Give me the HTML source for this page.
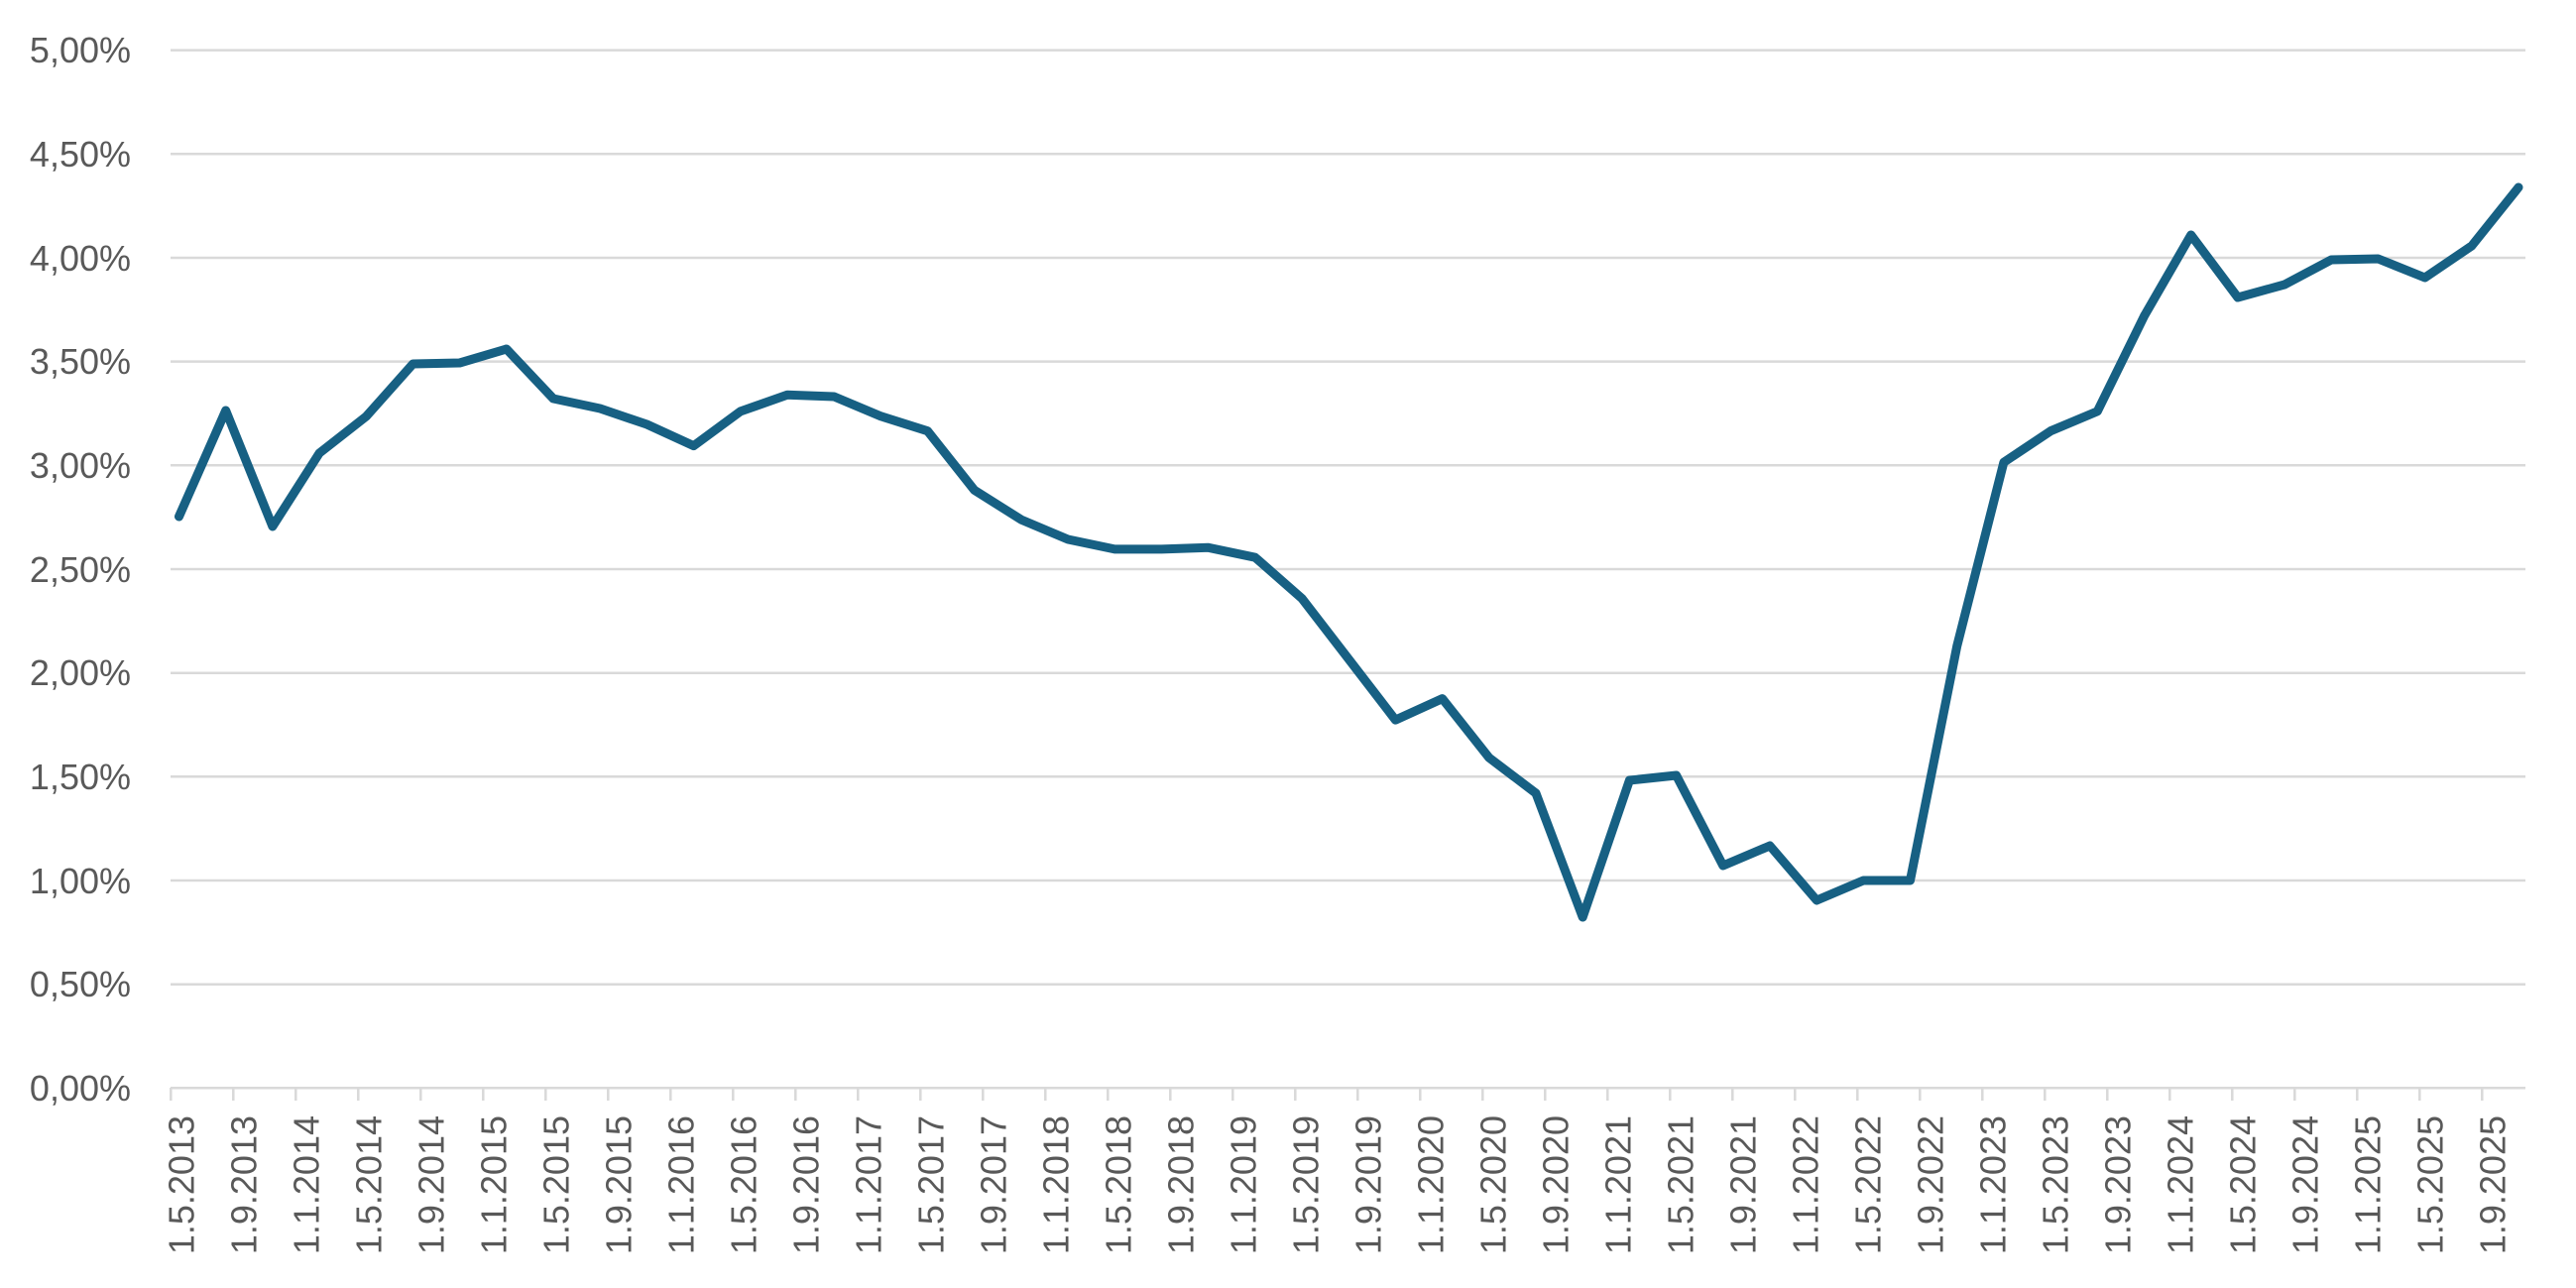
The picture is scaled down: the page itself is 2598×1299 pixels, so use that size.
<!DOCTYPE html>
<html><head><meta charset="utf-8"><style>
html,body{margin:0;padding:0;background:#fff;}
svg{display:block;}
text{font-family:"Liberation Sans",Arial,sans-serif;fill:#595959;}
</style></head><body>
<svg width="2598" height="1299" viewBox="0 0 2598 1299" xmlns="http://www.w3.org/2000/svg">
<g stroke="#d9d9d9" stroke-width="2.5">
<line x1="172" y1="50.6" x2="2547" y2="50.6"/>
<line x1="172" y1="155.3" x2="2547" y2="155.3"/>
<line x1="172" y1="260" x2="2547" y2="260"/>
<line x1="172" y1="364.6" x2="2547" y2="364.6"/>
<line x1="172" y1="469.3" x2="2547" y2="469.3"/>
<line x1="172" y1="574" x2="2547" y2="574"/>
<line x1="172" y1="678.7" x2="2547" y2="678.7"/>
<line x1="172" y1="783.3" x2="2547" y2="783.3"/>
<line x1="172" y1="888" x2="2547" y2="888"/>
<line x1="172" y1="992.7" x2="2547" y2="992.7"/>
<line x1="172" y1="1097.3" x2="2547" y2="1097.3"/>
</g>
<g font-size="36" text-anchor="end">
<text x="132" y="63">5,00%</text>
<text x="132" y="168">4,50%</text>
<text x="132" y="273">4,00%</text>
<text x="132" y="377">3,50%</text>
<text x="132" y="482">3,00%</text>
<text x="132" y="587">2,50%</text>
<text x="132" y="691">2,00%</text>
<text x="132" y="796">1,50%</text>
<text x="132" y="901">1,00%</text>
<text x="132" y="1005">0,50%</text>
<text x="132" y="1110">0,00%</text>
</g>
<g stroke="#d9d9d9" stroke-width="2.5">
<line x1="172.3" y1="1097" x2="172.3" y2="1110"/><line x1="235.3" y1="1097" x2="235.3" y2="1110"/><line x1="298.3" y1="1097" x2="298.3" y2="1110"/><line x1="361.3" y1="1097" x2="361.3" y2="1110"/><line x1="424.3" y1="1097" x2="424.3" y2="1110"/><line x1="487.3" y1="1097" x2="487.3" y2="1110"/><line x1="550.3" y1="1097" x2="550.3" y2="1110"/><line x1="613.3" y1="1097" x2="613.3" y2="1110"/><line x1="676.3" y1="1097" x2="676.3" y2="1110"/><line x1="739.3" y1="1097" x2="739.3" y2="1110"/><line x1="802.3" y1="1097" x2="802.3" y2="1110"/><line x1="865.3" y1="1097" x2="865.3" y2="1110"/><line x1="928.3" y1="1097" x2="928.3" y2="1110"/><line x1="991.3" y1="1097" x2="991.3" y2="1110"/><line x1="1054.3" y1="1097" x2="1054.3" y2="1110"/><line x1="1117.3" y1="1097" x2="1117.3" y2="1110"/><line x1="1180.3" y1="1097" x2="1180.3" y2="1110"/><line x1="1243.3" y1="1097" x2="1243.3" y2="1110"/><line x1="1306.3" y1="1097" x2="1306.3" y2="1110"/><line x1="1369.3" y1="1097" x2="1369.3" y2="1110"/><line x1="1432.3" y1="1097" x2="1432.3" y2="1110"/><line x1="1495.3" y1="1097" x2="1495.3" y2="1110"/><line x1="1558.3" y1="1097" x2="1558.3" y2="1110"/><line x1="1621.3" y1="1097" x2="1621.3" y2="1110"/><line x1="1684.3" y1="1097" x2="1684.3" y2="1110"/><line x1="1747.3" y1="1097" x2="1747.3" y2="1110"/><line x1="1810.3" y1="1097" x2="1810.3" y2="1110"/><line x1="1873.3" y1="1097" x2="1873.3" y2="1110"/><line x1="1936.3" y1="1097" x2="1936.3" y2="1110"/><line x1="1999.3" y1="1097" x2="1999.3" y2="1110"/><line x1="2062.3" y1="1097" x2="2062.3" y2="1110"/><line x1="2125.3" y1="1097" x2="2125.3" y2="1110"/><line x1="2188.3" y1="1097" x2="2188.3" y2="1110"/><line x1="2251.3" y1="1097" x2="2251.3" y2="1110"/><line x1="2314.3" y1="1097" x2="2314.3" y2="1110"/><line x1="2377.3" y1="1097" x2="2377.3" y2="1110"/><line x1="2440.3" y1="1097" x2="2440.3" y2="1110"/><line x1="2503.3" y1="1097" x2="2503.3" y2="1110"/>
</g>
<g font-size="36" text-anchor="end">
<text transform="translate(195.3,1125) rotate(-90)">1.5.2013</text>
<text transform="translate(258.3,1125) rotate(-90)">1.9.2013</text>
<text transform="translate(321.3,1125) rotate(-90)">1.1.2014</text>
<text transform="translate(384.3,1125) rotate(-90)">1.5.2014</text>
<text transform="translate(447.3,1125) rotate(-90)">1.9.2014</text>
<text transform="translate(510.3,1125) rotate(-90)">1.1.2015</text>
<text transform="translate(573.3,1125) rotate(-90)">1.5.2015</text>
<text transform="translate(636.3,1125) rotate(-90)">1.9.2015</text>
<text transform="translate(699.3,1125) rotate(-90)">1.1.2016</text>
<text transform="translate(762.3,1125) rotate(-90)">1.5.2016</text>
<text transform="translate(825.3,1125) rotate(-90)">1.9.2016</text>
<text transform="translate(888.3,1125) rotate(-90)">1.1.2017</text>
<text transform="translate(951.3,1125) rotate(-90)">1.5.2017</text>
<text transform="translate(1014.3,1125) rotate(-90)">1.9.2017</text>
<text transform="translate(1077.3,1125) rotate(-90)">1.1.2018</text>
<text transform="translate(1140.3,1125) rotate(-90)">1.5.2018</text>
<text transform="translate(1203.3,1125) rotate(-90)">1.9.2018</text>
<text transform="translate(1266.3,1125) rotate(-90)">1.1.2019</text>
<text transform="translate(1329.3,1125) rotate(-90)">1.5.2019</text>
<text transform="translate(1392.3,1125) rotate(-90)">1.9.2019</text>
<text transform="translate(1455.3,1125) rotate(-90)">1.1.2020</text>
<text transform="translate(1518.3,1125) rotate(-90)">1.5.2020</text>
<text transform="translate(1581.3,1125) rotate(-90)">1.9.2020</text>
<text transform="translate(1644.3,1125) rotate(-90)">1.1.2021</text>
<text transform="translate(1707.3,1125) rotate(-90)">1.5.2021</text>
<text transform="translate(1770.3,1125) rotate(-90)">1.9.2021</text>
<text transform="translate(1833.3,1125) rotate(-90)">1.1.2022</text>
<text transform="translate(1896.3,1125) rotate(-90)">1.5.2022</text>
<text transform="translate(1959.3,1125) rotate(-90)">1.9.2022</text>
<text transform="translate(2022.3,1125) rotate(-90)">1.1.2023</text>
<text transform="translate(2085.3,1125) rotate(-90)">1.5.2023</text>
<text transform="translate(2148.3,1125) rotate(-90)">1.9.2023</text>
<text transform="translate(2211.3,1125) rotate(-90)">1.1.2024</text>
<text transform="translate(2274.3,1125) rotate(-90)">1.5.2024</text>
<text transform="translate(2337.3,1125) rotate(-90)">1.9.2024</text>
<text transform="translate(2400.3,1125) rotate(-90)">1.1.2025</text>
<text transform="translate(2463.3,1125) rotate(-90)">1.5.2025</text>
<text transform="translate(2526.3,1125) rotate(-90)">1.9.2025</text>
</g>
<polyline fill="none" stroke="#176083" stroke-width="9" stroke-linejoin="round" stroke-linecap="round" points="180.5,521 227.7,414 274.9,531 322.1,457 369.3,420 416.5,367 463.6,366 510.8,352 558,402 605.2,412 652.4,428 699.6,449.6 746.8,414.9 794,398.3 841.2,400 888.4,419.8 935.5,434.7 982.7,494.3 1029.9,524.1 1077.1,544 1124.3,553.9 1171.5,553.9 1218.7,552.3 1265.9,562.2 1313.1,603.6 1360.3,664.9 1407.4,726.1 1454.6,704.6 1501.8,764.2 1549,800 1596.2,925 1643.4,787 1690.6,782 1737.8,873 1785,853 1832.2,908 1879.3,888 1926.5,888 1973.7,651.6 2020.9,466.2 2068.1,434.7 2115.3,414.9 2162.5,318.8 2209.7,237 2256.9,300 2304.1,287 2351.2,262 2398.4,261 2445.6,280 2492.8,248 2540,189"/>
</svg>
</body></html>
